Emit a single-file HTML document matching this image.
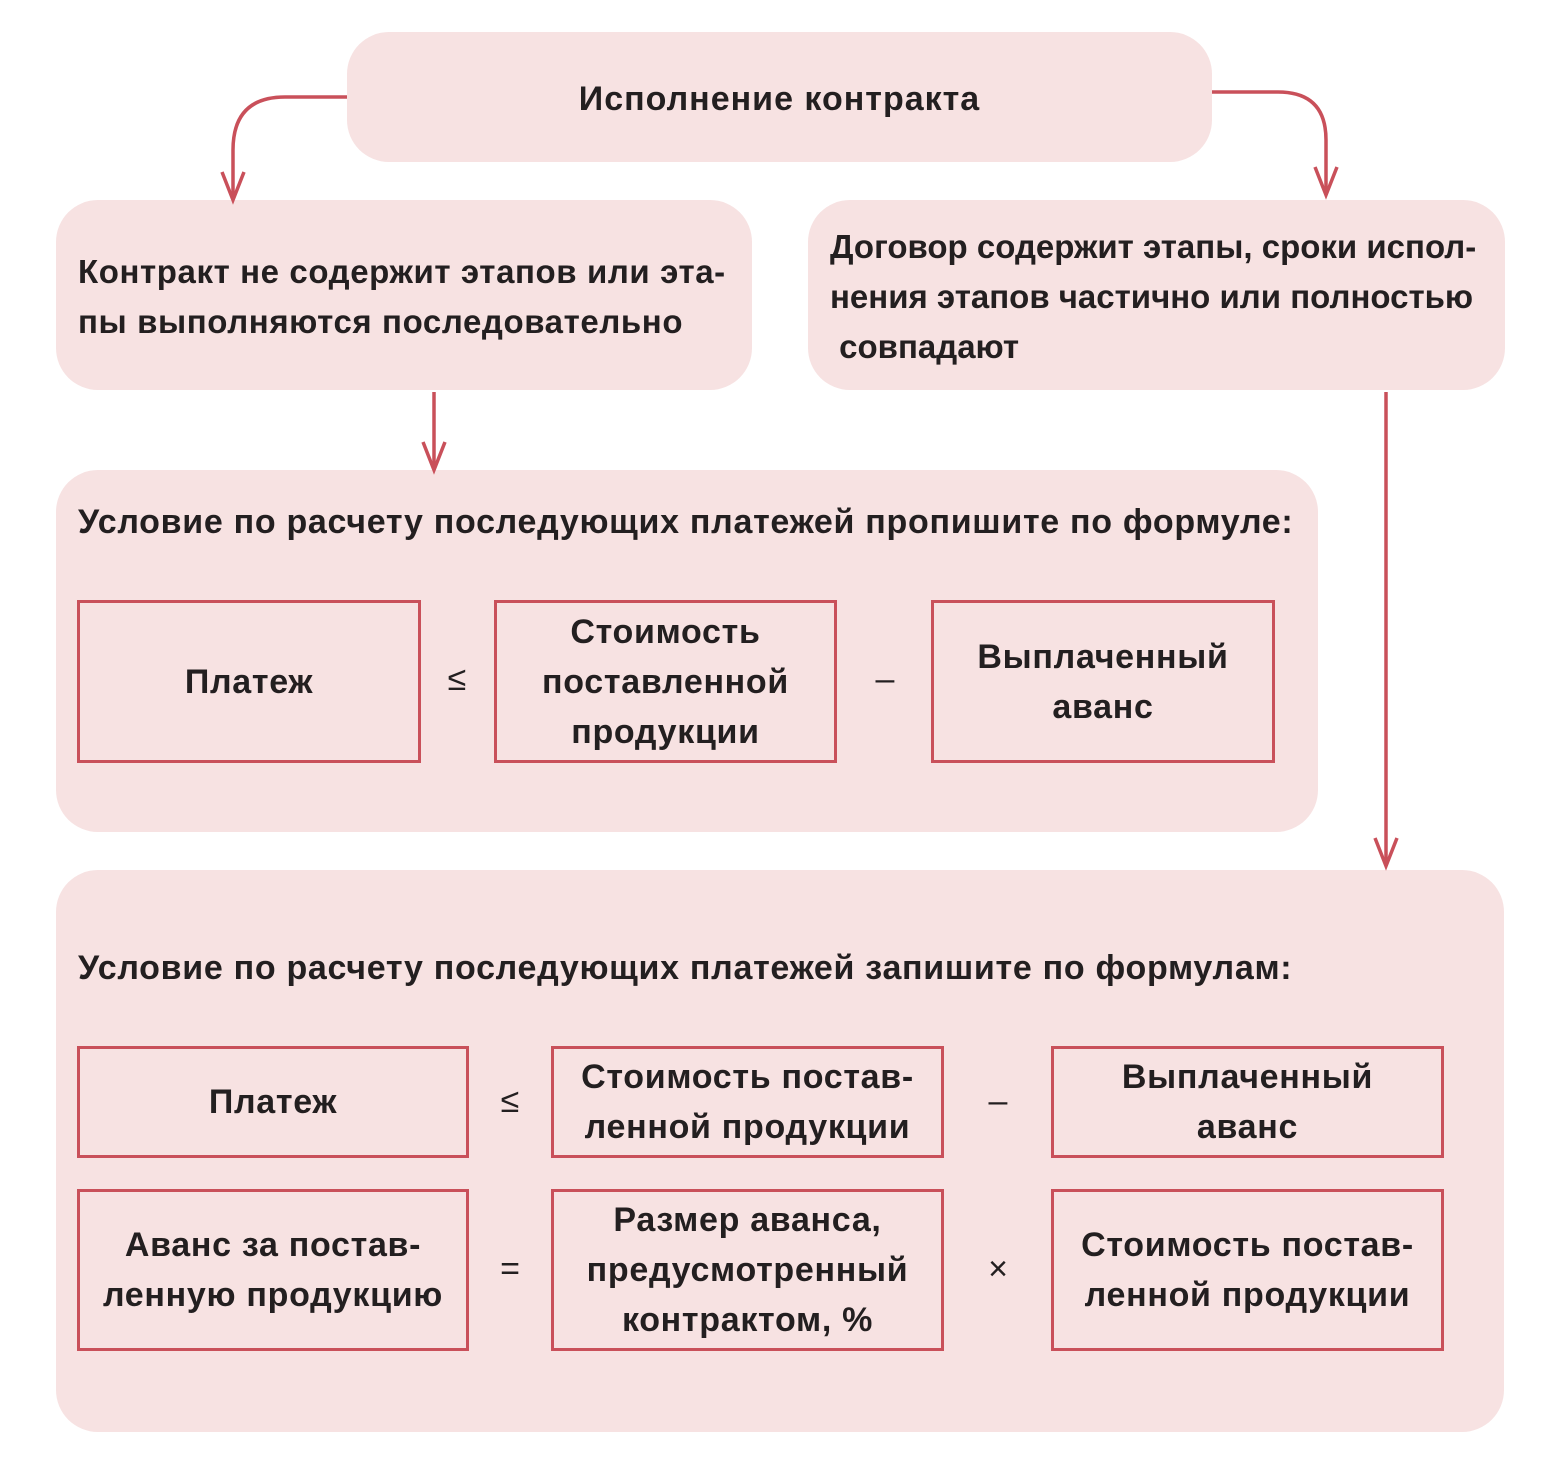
<!DOCTYPE html>
<html><head><meta charset="utf-8"><style>
body{margin:0;width:1557px;height:1459px;background:#fff;position:relative;font-family:"Liberation Sans","DejaVu Sans",sans-serif;font-weight:bold;color:#231f20;overflow:hidden}
.p{position:absolute;background:#f7e2e2;border-radius:42px}
.b{position:absolute;border:3px solid #c9505a;box-sizing:border-box;display:flex;align-items:center;justify-content:center;text-align:center;font-size:34px;line-height:50px;letter-spacing:0.7px}
.t{position:absolute;font-size:34px;line-height:50px;letter-spacing:0.7px;white-space:nowrap}
.op{position:absolute;font-size:34px;font-weight:normal;width:60px;text-align:center}
</style></head><body>
<div class="p" style="left:347px;top:32px;width:865px;height:130px"></div>
<div class="t" style="left:347px;width:865px;top:74px;text-align:center;letter-spacing:1px">Исполнение контракта</div>
<div class="p" style="left:56px;top:200px;width:696px;height:190px"></div>
<div class="t" style="left:78px;top:247px;font-size:33px;letter-spacing:0.6px">Контракт не содержит этапов или эта-<br>пы выполняются последовательно</div>
<div class="p" style="left:808px;top:200px;width:697px;height:190px"></div>
<div class="t" style="left:830px;top:222px;font-size:33px;letter-spacing:0px">Договор содержит этапы, сроки испол-<br>нения этапов частично или полностью<br>&nbsp;совпадают</div>
<div class="p" style="left:56px;top:470px;width:1262px;height:362px"></div>
<div class="t" style="left:78px;top:497px">Условие по расчету последующих платежей пропишите по формуле:</div>
<div class="b" style="left:77px;top:600px;width:344px;height:163px">Платеж</div>
<div class="op" style="left:427px;top:660px">≤</div>
<div class="b" style="left:494px;top:600px;width:343px;height:163px">Стоимость<br>поставленной<br>продукции</div>
<div class="op" style="left:855px;top:660px">–</div>
<div class="b" style="left:931px;top:600px;width:344px;height:163px">Выплаченный<br>аванс</div>
<div class="p" style="left:56px;top:870px;width:1448px;height:562px"></div>
<div class="t" style="left:78px;top:943px">Условие по расчету последующих платежей запишите по формулам:</div>
<div class="b" style="left:77px;top:1046px;width:392px;height:112px">Платеж</div>
<div class="op" style="left:480px;top:1082px">≤</div>
<div class="b" style="left:551px;top:1046px;width:393px;height:112px">Стоимость постав-<br>ленной продукции</div>
<div class="op" style="left:968px;top:1082px">–</div>
<div class="b" style="left:1051px;top:1046px;width:393px;height:112px">Выплаченный<br>аванс</div>
<div class="b" style="left:77px;top:1189px;width:392px;height:162px">Аванс за постав-<br>ленную продукцию</div>
<div class="op" style="left:480px;top:1250px">=</div>
<div class="b" style="left:551px;top:1189px;width:393px;height:162px">Размер аванса,<br>предусмотренный<br>контрактом, %</div>
<div class="op" style="left:968px;top:1250px">×</div>
<div class="b" style="left:1051px;top:1189px;width:393px;height:162px">Стоимость постав-<br>ленной продукции</div>
<svg style="position:absolute;left:0;top:0" width="1557" height="1459" fill="none" stroke="#c9505a" stroke-width="3.5">
<path d="M347 97 H285 Q233 97 233 150 V198"/><path d="M222 172 L233 200 L244 172"/>
<path d="M1212 92 H1278 Q1326 92 1326 140 V195"/><path d="M1315 167 L1326 195 L1337 167"/>
<path d="M434 392 V470"/><path d="M423 442 L434 470 L445 442"/>
<path d="M1386 392 V866"/><path d="M1375 838 L1386 866 L1397 838"/>
</svg>
</body></html>
